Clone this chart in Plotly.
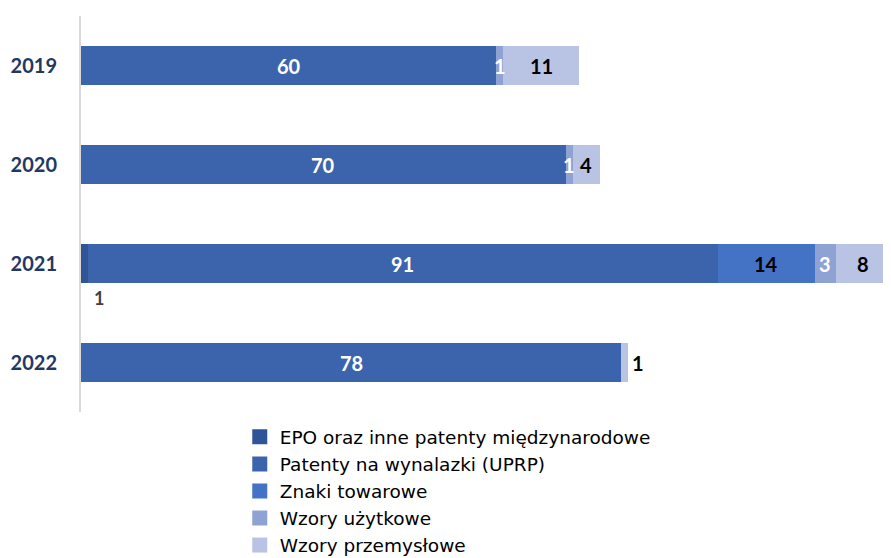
import plotly.graph_objects as go

# dane
lata = ["2019", "2020", "2021", "2022"]
serie = ["EPO oraz inne patenty międzynarodowe", "Patenty na wynalazki (UPRP)",
         "Znaki towarowe", "Wzory użytkowe", "Wzory przemysłowe"]
epo = [0, 0, 1, 0]
patenty = [60, 70, 91, 78]
znaki = [0, 0, 14, 0]
uzytkowe = [1, 1, 3, 0]
przemyslowe = [11, 4, 8, 1]

kolory = ["#2F5597", "#3C64AC", "#4472C4", "#8EA3D4", "#B9C3E3"]
kolor_etyk = ["#404040", "white", "black", "white", "black"]
FONT = "Lato"

wartosci = [epo, patenty, znaki, uzytkowe, przemyslowe]

fig = go.Figure()
for nazwa, vals, kol in zip(serie, wartosci, kolory):
    fig.add_trace(go.Bar(
        y=lata, x=vals, name=nazwa, orientation="h",
        marker=dict(color=kol, line=dict(width=0)),
        showlegend=False,
    ))
    # pozycja legendy z większym kwadratem
    fig.add_trace(go.Scatter(
        x=[None], y=[None], mode="markers", name=nazwa,
        marker=dict(symbol="square", size=15, color=kol),
    ))

# etykiety wartości (y = indeks kategorii)
for i, rok in enumerate(lata):
    start = 0
    for s, vals in enumerate(wartosci):
        v = vals[i]
        if v == 0:
            continue
        if s == 0:
            # EPO - podpis pod słupkiem
            fig.add_annotation(x=start + v / 2, y=i, text=f"<b>{v}</b>", showarrow=False,
                               xanchor="left", xshift=8, yshift=-34,
                               font=dict(family=FONT, size=18, color=kolor_etyk[s]))
        elif s == 4 and v == 1 and uzytkowe[i] == 0:
            # mały słupek - podpis na zewnątrz
            fig.add_annotation(x=start + v, y=i, text=f"<b>{v}</b>", showarrow=False,
                               xanchor="left", xshift=2,
                               font=dict(family=FONT, size=20, color="black"))
        else:
            fig.add_annotation(x=start + v / 2, y=i, text=f"<b>{v}</b>", showarrow=False,
                               font=dict(family=FONT, size=20, color=kolor_etyk[s]))
        start += v

# strona ma 8px marginesu body, stąd 883x550
fig.update_layout(
    barmode="stack",
    bargap=0.6,
    width=883, height=550,
    margin=dict(l=73, r=0, t=8, b=146, autoexpand=False),
    plot_bgcolor="white", paper_bgcolor="white",
    font=dict(family=FONT),
    showlegend=True,
    legend=dict(orientation="v", x=0.196, y=-0.016, xanchor="left", yanchor="top",
                traceorder="normal", font=dict(family="DejaVu Sans", size=18.5, color="black"),
                itemwidth=30, tracegroupgap=0),
    xaxis=dict(range=[0, 117], visible=False),
    yaxis=dict(type="category", range=[3.5, -0.5], autorange=False, showline=True,
               linecolor="#D9D9D9", linewidth=2, automargin=False,
               ticks="", ticklabelstandoff=18, showgrid=False,
               tickfont=dict(family=FONT, size=20, color="#1F3864", weight="bold")),
)

fig.write_html("out.html")
